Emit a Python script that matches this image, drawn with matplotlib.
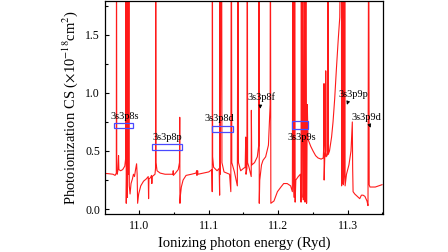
import matplotlib
matplotlib.use("Agg")
import matplotlib.pyplot as plt
from matplotlib.patches import Rectangle
from matplotlib.ticker import MultipleLocator

plt.rcParams['font.family'] = ['Liberation Serif', 'DejaVu Serif']
plt.rcParams['mathtext.fontset'] = 'stix'

# photon energy (Ryd) and cross section (1e-18 cm^2)
energy = [
    10.9506, 10.955, 10.962, 10.965, 10.9668, 10.9671, 10.9674, 10.968, 10.969, 10.970,
    10.9705, 10.973, 10.976, 10.979, 10.9805, 10.9808, 10.9811, 10.9816, 10.9823, 10.9826,
    10.9832, 10.9837, 10.9842, 10.9850, 10.9855, 10.9866, 10.988, 10.990, 10.9915, 10.993,
    10.9945, 10.996, 10.9968, 10.9975, 10.999, 11.002, 11.006, 11.010, 11.0128, 11.0133,
    11.0138, 11.016, 11.0175, 11.018, 11.0185, 11.0225, 11.0233, 11.0236, 11.024, 11.0255,
    11.030, 11.037, 11.045, 11.0486, 11.0488, 11.049, 11.052, 11.056, 11.0578, 11.0582,
    11.0585, 11.0592, 11.0605, 11.063, 11.0673, 11.075, 11.0817, 11.0825, 11.083, 11.084,
    11.0845, 11.092, 11.100, 11.1045, 11.105, 11.1052, 11.1056, 11.107, 11.112, 11.115,
    11.1157, 11.1159, 11.1165, 11.1185, 11.119, 11.122, 11.130, 11.1318, 11.1326, 11.1332,
    11.137, 11.1412, 11.1422, 11.1428, 11.146, 11.150, 11.1525, 11.1533, 11.1537, 11.155,
    11.1556, 11.156, 11.158, 11.1605, 11.1612, 11.1614, 11.162, 11.166, 11.170, 11.172,
    11.1725, 11.1728, 11.1735, 11.176, 11.1782, 11.182, 11.186, 11.1885, 11.1888, 11.1895,
    11.194, 11.199, 11.204, 11.208, 11.213, 11.218, 11.2205, 11.2215, 11.2222, 11.2232,
    11.2239, 11.2245, 11.2255, 11.229, 11.232, 11.233, 11.2334, 11.234, 11.2359, 11.2363,
    11.2375, 11.2383, 11.2388, 11.240, 11.241, 11.242, 11.2431, 11.247, 11.2503, 11.254,
    11.2575, 11.262, 11.265, 11.2658, 11.2661, 11.2663, 11.2672, 11.2684, 11.2686, 11.269,
    11.2705, 11.2715, 11.2717, 11.2722, 11.274, 11.277, 11.2791, 11.2815, 11.2839, 11.2865,
    11.2888, 11.2911, 11.2915, 11.2925, 11.293, 11.2935, 11.294, 11.2955, 11.296, 11.2965,
    11.2985, 11.302, 11.305, 11.3064, 11.3069, 11.3074, 11.308, 11.3104, 11.314, 11.3176,
    11.320, 11.3223, 11.325, 11.328, 11.3295, 11.3305, 11.3312, 11.3323, 11.340, 11.3497,
]
cross_section = [
    0.307, 0.305, 0.30, 0.29, 0.31, 3.0, 0.32, 0.30, 0.33, 0.46,
    0.34, 0.33, 0.34, 0.37, 0.45, 3.0, 0.05, 0.30, 3.0, 0.10,
    0.30, 3.0, 0.30, 3.0, 0.20, 0.13, 0.22, 0.26, 0.30, 0.28,
    0.34, 0.39, 0.30, 0.05, 0.13, 0.20, 0.24, 0.26, 0.28, 0.09,
    0.26, 0.27, 0.29, 0.22, 0.28, 0.30, 0.35, 3.0, 0.40, 0.33,
    0.31, 0.30, 0.30, 0.30, 0.33, 0.29, 0.31, 0.34, 0.40, 0.79,
    0.05, 0.12, 0.19, 0.25, 0.29, 0.30, 0.31, 0.33, 0.29, 0.33,
    0.30, 0.31, 0.32, 0.34, 0.15, 3.0, 0.45, 0.36, 0.33, 0.35,
    0.12, 3.0, 0.30, 3.0, 0.40, 0.32, 0.30, 0.15, 3.0, 0.40,
    0.32, 0.20, 3.0, 0.40, 0.33, 0.35, 0.36, 0.62, 0.30, 0.35,
    3.0, 0.40, 0.36, 0.30, 0.28, 0.85, 0.38, 0.40, 0.45, 0.55,
    3.0, 0.05, 0.25, 0.38, 0.42, 0.45, 0.55, 0.90, 3.0, 0.05,
    0.07, 0.15, 0.19, 0.22, 0.22, 0.20, 0.15, 3.0, 0.30, 0.10,
    3.0, 0.06, 0.25, 0.28, 0.30, 0.06, 3.0, 0.10, 3.0, 0.08,
    0.30, 3.0, 0.06, 3.0, 0.05, 0.90, 0.60, 0.54, 0.50, 0.46,
    0.44, 0.43, 0.44, 0.55, 1.08, 0.25, 0.45, 0.50, 1.19, 0.45,
    0.46, 0.50, 3.0, 0.47, 0.50, 0.62, 0.75, 0.95, 1.20, 1.45,
    1.65, 3.0, 0.20, 3.0, 0.22, 3.0, 0.21, 0.33, 3.0, 0.20,
    0.30, 0.38, 0.50, 0.70, 0.75, 0.35, 0.15, 0.13, 0.11, 0.09,
    0.12, 0.12, 0.11, 0.07, 0.03, 3.0, 0.21, 0.19, 0.19, 0.21,
]

# resonance labels: text, text position, arrow tip (None = no arrow)
labels = ['3s3p8s', '3s3p8p', '3s3p8d', '3s3p8f', '3s3p9s', '3s3p9p', '3s3p9d']
label_x = [10.9794, 11.0399, 11.1148, 11.1754, 11.2340, 11.3079, 11.3277]
label_y = [0.80, 0.62, 0.78, 0.96, 0.615, 0.99, 0.79]
arrow_tip = [None, None, None, (11.1739, 0.84), None, (11.2978, 0.875), (11.3331, 0.70)]

# blue boxes marking resonance groups: (x0, x1, y0, y1)
box_x0 = [10.963, 11.018, 11.104, 11.2196]
box_x1 = [10.9914, 11.062, 11.135, 11.2435]
box_y0 = [0.70, 0.506, 0.66, 0.693]
box_y1 = [0.744, 0.564, 0.713, 0.755]

fig = plt.figure(figsize=(4.48, 2.52), dpi=100)
ax = fig.add_axes([0.2344, 0.149, 0.6194, 0.849])

ax.plot(energy, cross_section, color='#ff1a1a', lw=0.8)

for x0, x1, y0, y1 in zip(box_x0, box_x1, box_y0, box_y1):
    ax.add_patch(Rectangle((x0, y0), x1 - x0, y1 - y0, fill=False,
                           edgecolor='#4a4aff', lw=0.9, zorder=3))

for txt, tx, ty, tip in zip(labels, label_x, label_y, arrow_tip):
    ax.text(tx, ty, txt, fontsize=7.5, ha='center', va='center')
    if tip is not None:
        dx = (tx - tip[0]) * 0.35
        ax.annotate('', xy=tip, xytext=(tip[0] + dx, ty - 0.055),
                    arrowprops=dict(arrowstyle='-|>', color='black', lw=0.6,
                                    mutation_scale=5))

ax.set_xlim(10.9505, 11.3504)
ax.set_ylim(-0.046, 1.795)
ax.xaxis.set_major_locator(MultipleLocator(0.1))
ax.xaxis.set_minor_locator(MultipleLocator(0.05))
ax.yaxis.set_major_locator(MultipleLocator(0.5))
ax.yaxis.set_minor_locator(MultipleLocator(0.25))
ax.tick_params(which='both', direction='in', labelsize=8.5, width=0.8)
ax.tick_params(which='major', length=3)
ax.tick_params(which='minor', length=1.8)
ax.tick_params(axis='x', pad=4)
for s in ax.spines.values():
    s.set_linewidth(0.9)

ax.set_xlabel('Ionizing photon energy (Ryd)', fontsize=10.5, labelpad=3)
ax.set_ylabel('Photoionization CS ($\\times$10$^{-18}$cm$^{2}$)', fontsize=10.5, labelpad=4)

fig.savefig('out.png', dpi=100)
